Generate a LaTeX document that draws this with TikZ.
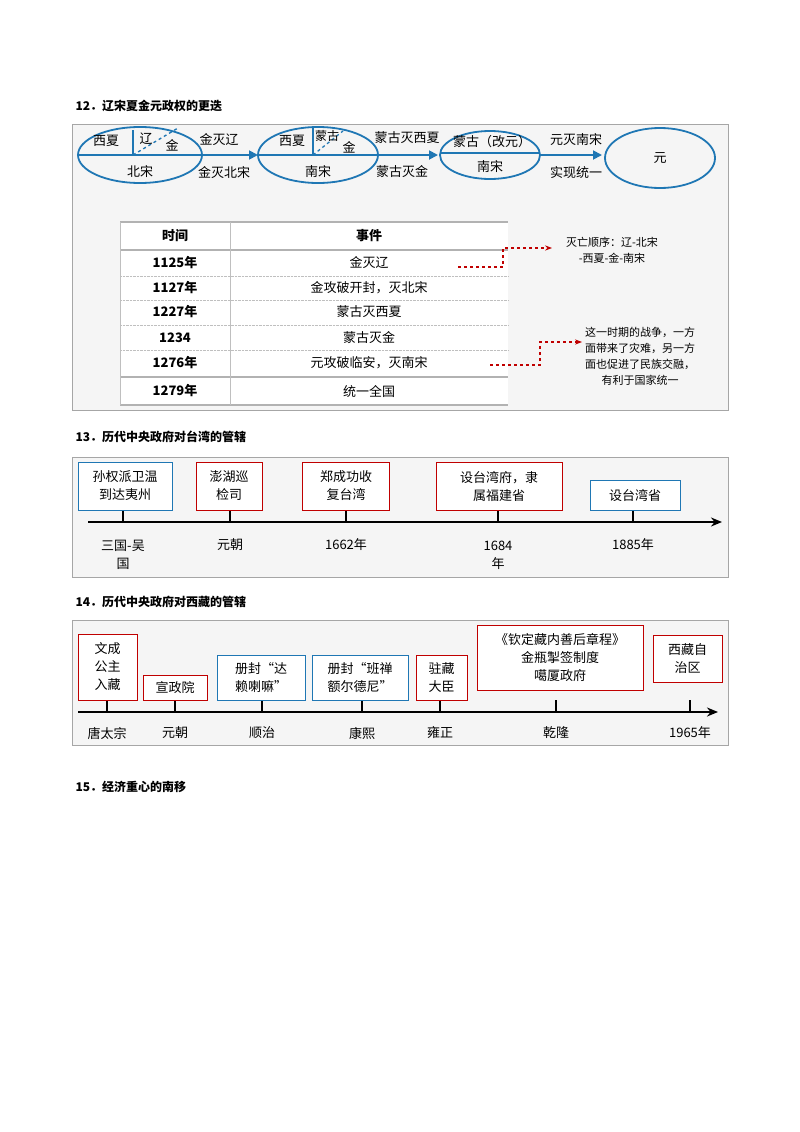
\documentclass[tikz,border=0pt]{standalone}
\usepackage{fontspec}
\setmainfont{Noto Sans CJK SC}
\usetikzlibrary{arrows.meta}
\definecolor{bl}{HTML}{1F77B4}
\definecolor{rd}{HTML}{C00000}
\begin{document}
\begin{tikzpicture}[x=1pt,y=-1pt,font=\fontsize{13}{18}\selectfont,
 ttl/.style={anchor=west,font=\fontsize{12}{14}\selectfont\bfseries},
 ell/.style={draw=bl,line width=1.8pt},
 bar/.style={draw=bl,line width=1.8pt},
 barr/.style={draw=bl,line width=1.8pt,-{Triangle[length=9pt,width=9pt,open,fill=bl]}},
 frame/.style={draw=gray!70,fill=gray!8,line width=0.6pt},
 rbox/.style={draw=rd,line width=1pt,fill=white,align=center,inner sep=3pt},
 bbox/.style={draw=bl,line width=1pt,fill=white,align=center,inner sep=3pt},
 tl/.style={line width=2.2pt,-{Stealth[length=11pt,width=9pt]}},
 tk/.style={line width=1.6pt},
 rda/.style={draw=rd,line width=1.4pt,dashed,-{Stealth[length=7pt]}}]
\useasboundingbox (0,0) rectangle (800,1132);
\fill[white] (0,0) rectangle (800,1132);
% section 12
\node[ttl] (t12) at (72,106) {12．辽宋夏金元政权的更迭};
\draw[frame] (72,124) rectangle (728,410);
\draw[ell] (140,155) ellipse [x radius=62,y radius=28];
\draw[bar] (78,155) -- (202,155);
\draw[bar] (133,130) -- (133,155);
\draw[bl,line width=1.3pt,dashed] (133,155) -- (178,128);
\node (a1) at (106,141) {西夏};
\node (a2) at (146,139) {辽};
\node (a3) at (172,145) {金};
\node (a4) at (140,172) {北宋};
\draw[ell] (318,155) ellipse [x radius=60,y radius=28];
\draw[bar] (258,155) -- (378,155);
\draw[bar] (313,128) -- (313,155);
\draw[bl,line width=1.3pt,dashed] (313,155) -- (343,131);
\node (b1) at (292,141) {西夏};
\node[font=\fontsize{12}{14}\selectfont] (b2) at (327,136) {蒙古};
\node (b3) at (349,147) {金};
\node (b4) at (318,172) {南宋};
\draw[ell] (490,155) ellipse [x radius=50,y radius=24];
\draw[bar] (441,153) -- (539,153);
\node (c1) at (492,142) {蒙古（改元）};
\node (c2) at (490,167) {南宋};
\draw[ell] (660,158) ellipse [x radius=55,y radius=30];
\node (d1) at (660,158) {元};
\coordinate (p1) at (202,155); \coordinate (p2) at (258,155);
\coordinate (p3) at (378,155); \coordinate (p4) at (438,155);
\coordinate (p5) at (540,155); \coordinate (p6) at (602,155);
\draw[barr] (p1) -- (p2);
\draw[barr] (p3) -- (p4);
\draw[barr] (p5) -- (p6);
\node (l1) at (219,140) {金灭辽};
\node (l2) at (224,173) {金灭北宋};
\node (l3) at (407,138) {蒙古灭西夏};
\node (l4) at (402,172) {蒙古灭金};
\node (l5) at (576,140) {元灭南宋};
\node (l6) at (576,173) {实现统一};
% table
\fill[white] (120,222) rectangle (508,405);
\draw[gray!60,line width=1.2pt] (120,222) -- (508,222);
\draw[gray!60,line width=1.2pt] (120,405) -- (508,405);
\draw[gray!60,line width=1.2pt] (120,250) -- (508,250);
\foreach \y in {276,300,325,350} \draw[gray!50,densely dotted] (120,\y) -- (508,\y);
\draw[gray!60,line width=1.8pt] (120,377) -- (508,377);
\draw[gray!50] (230,222) -- (230,405);
\draw[gray!50] (120,222) -- (120,405);
\node[font=\fontsize{13}{14}\selectfont\bfseries] (h1) at (175,236) {时间};
\node[font=\fontsize{13}{14}\selectfont\bfseries] (h2) at (369,236) {事件};
\foreach \n/\y/\t/\e in {r1/263/1125年/金灭辽, r2/288/1127年/金攻破开封，灭北宋, r3/312/1227年/蒙古灭西夏, r4/338/1234/蒙古灭金, r5/363/1276年/元攻破临安，灭南宋, r6/391/1279年/统一全国}{
 \node[font=\fontsize{13}{14}\selectfont\bfseries] (\n a) at (175,\y) {\t};
 \node (\n b) at (369,\y) {\e};}
\node[align=center,font=\fontsize{11}{16}\selectfont] (n1) at (612,250) {灭亡顺序：辽-北宋\\-西夏-金-南宋};
\node[align=center,font=\fontsize{11}{16}\selectfont] (n2) at (640,356) {这一时期的战争，一方\\面带来了灾难，另一方\\面也促进了民族交融，\\有利于国家统一};
\coordinate (s1) at (458,267); \coordinate (e1) at (552,248);
\draw[rda] (s1) -- (503,267) -- (503,248) -- (e1);
\coordinate (s2) at (490,365); \coordinate (e2) at (582,342);
\draw[rda] (s2) -- (540,365) -- (540,342) -- (e2);
% section 13
\node[ttl] (t13) at (72,437) {13．历代中央政府对台湾的管辖};
\draw[frame] (72,457) rectangle (728,577);
\coordinate (ta) at (88,522); \coordinate (tb) at (722,522);
\draw[tl] (ta) -- (tb);
\foreach \x in {123,230,346,498,633} \draw[tk] (\x,510) -- (\x,522);
\node[bbox,minimum width=94pt,minimum height=48pt] (k1) at (125,486) {孙权派卫温\\到达夷州};
\node[rbox,minimum width=66pt,minimum height=48pt] (k2) at (229,486) {澎湖巡\\检司};
\node[rbox,minimum width=87pt,minimum height=48pt] (k3) at (346,486) {郑成功收\\复台湾};
\node[rbox,minimum width=126pt,minimum height=48pt] (k4) at (499,486) {设台湾府，隶\\属福建省};
\node[bbox,minimum width=90pt,minimum height=30pt] (k5) at (635,495) {设台湾省};
\node[align=center] (m1) at (123,555) {三国-吴\\国};
\node (m2) at (230,545) {元朝};
\node (m3) at (346,545) {1662年};
\node[align=center] (m4) at (498,555) {1684\\年};
\node (m5) at (633,545) {1885年};
% section 14
\node[ttl] (t14) at (72,602) {14．历代中央政府对西藏的管辖};
\draw[frame] (72,620) rectangle (728,745);
\coordinate (ua) at (78,712); \coordinate (ub) at (718,712);
\draw[tl] (ua) -- (ub);
\foreach \x in {107,175,262,362,440,556,690} \draw[tk] (\x,700) -- (\x,712);
\node[rbox,minimum width=59pt,minimum height=66pt] (q1) at (107.5,667) {文成\\公主\\入藏};
\node[rbox,minimum width=64pt,minimum height=25pt] (q2) at (175,687.5) {宣政院};
\node[bbox,minimum width=88pt,minimum height=45pt] (q3) at (261,677.5) {册封“达\\赖喇嘛”};
\node[bbox,minimum width=96pt,minimum height=45pt] (q4) at (360,677.5) {册封“班禅\\额尔德尼”};
\node[rbox,minimum width=51pt,minimum height=45pt] (q5) at (441.5,677.5) {驻藏\\大臣};
\node[rbox,minimum width=166pt,minimum height=65pt] (q6) at (560,657.5) {《钦定藏内善后章程》\\金瓶掣签制度\\噶厦政府};
\node[rbox,minimum width=69pt,minimum height=47pt] (q7) at (687.5,658.5) {西藏自\\治区};
\node (w1) at (107,733) {唐太宗};
\node (w2) at (175,733) {元朝};
\node (w3) at (262,733) {顺治};
\node (w4) at (362,733) {康熙};
\node (w5) at (440,733) {雍正};
\node (w6) at (556,733) {乾隆};
\node (w7) at (690,733) {1965年};
\node[ttl] (t15) at (72,787) {15．经济重心的南移};
\end{tikzpicture}
\end{document}
